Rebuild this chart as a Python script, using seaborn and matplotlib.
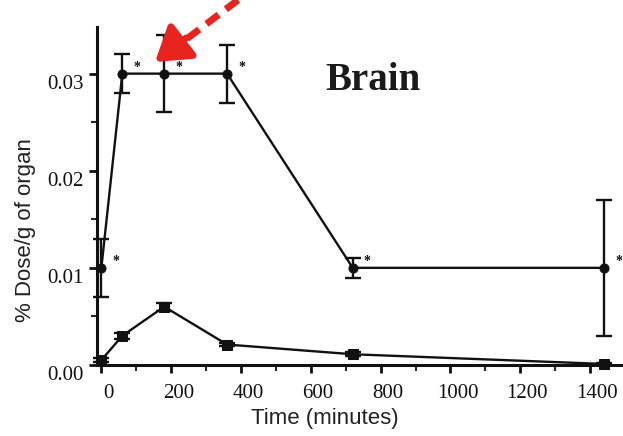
import numpy as np
import pandas as pd
import matplotlib.pyplot as plt
import matplotlib.transforms as mtransforms
import seaborn as sns
from matplotlib.ticker import MultipleLocator

# Brain uptake over time (% dose / g of organ)
time_min = [0, 60, 180, 360, 720, 1440]
upper_dose = [0.010, 0.030, 0.030, 0.030, 0.010, 0.010]
upper_err = [0.003, 0.002, 0.004, 0.003, 0.001, 0.007]
lower_dose = [0.0005, 0.0030, 0.0060, 0.0021, 0.0011, 0.0001]
lower_err = [0.0002, 0.0003, 0.0004, 0.0002, 0.0002, 0.0001]

df = pd.DataFrame({'time': time_min * 2,
                   'dose': upper_dose + lower_dose,
                   'group': ['upper'] * 6 + ['lower'] * 6})

sns.set_style('ticks')
plt.rcParams['font.family'] = ['Liberation Serif', 'DejaVu Serif']

fig = plt.figure(figsize=(6.23, 4.36), dpi=100)
ax = fig.add_axes([0.156, 0.163, 0.85, 0.775])

sns.lineplot(data=df, x='time', y='dose', style='group', markers={'upper': 'o', 'lower': 's'},
             dashes=False, color='#111111', linewidth=1.7, markersize=6.5,
             markeredgecolor='#111111', legend=False, ax=ax, clip_on=False)
ax.errorbar(time_min, upper_dose, yerr=upper_err, fmt='none', ecolor='#111111',
            elinewidth=1.7, capsize=6, capthick=1.7, clip_on=False)
ax.errorbar(time_min, lower_dose, yerr=lower_err, fmt='none', ecolor='#111111',
            elinewidth=1.7, capsize=6, capthick=1.7, clip_on=False)

for x, y in zip(time_min, upper_dose):
    ax.annotate('*', (x, y), xytext=(8, 2), textcoords='offset points',
                fontsize=10, fontweight='bold', color='#111111')

ax.set_xlim(-12, 1505)
ax.set_ylim(0, 0.0348)
ax.xaxis.set_major_locator(MultipleLocator(200))
ax.xaxis.set_minor_locator(MultipleLocator(100))
ax.yaxis.set_major_locator(MultipleLocator(0.01))
ax.yaxis.set_minor_locator(MultipleLocator(0.005))
ax.yaxis.set_major_formatter(plt.FuncFormatter(lambda v, p: f'{v:.2f}'))
ax.tick_params(which='major', length=6, width=2, labelsize=15, direction='out', colors='#111111')
ax.tick_params(axis='x', which='major', pad=8)
ax.tick_params(which='minor', length=4, width=1.5, direction='out')
for s in ['left', 'bottom']:
    ax.spines[s].set_linewidth(2.2)
    ax.spines[s].set_color('#111111')
sns.despine(ax=ax)

# tick labels sit a little off their ticks in the original
shift_y = mtransforms.ScaledTranslation(0, -8 / 100, fig.dpi_scale_trans)
shift_x = mtransforms.ScaledTranslation(7 / 100, 0, fig.dpi_scale_trans)
for lab in ax.get_yticklabels():
    lab.set_transform(lab.get_transform() + shift_y)
for lab in ax.get_xticklabels():
    lab.set_transform(lab.get_transform() + shift_x)

ax.set_xlabel('Time (minutes)', family='Liberation Sans', fontsize=16, color='#222222')
ax.xaxis.set_label_coords(0.43, -0.127)
ax.set_ylabel('% Dose/g of organ', family='Liberation Sans', fontsize=16, color='#222222')
ax.yaxis.set_label_coords(-0.115, 0.40)

ax.text(0.522, 0.815, 'Brain', transform=fig.transFigure, fontsize=28, fontweight='bold',
        va='center', ha='left', color='#1a1a1a')

# red dashed arrow pointing at the 180 min point
red = '#e8241f'
fig.add_artist(plt.Line2D([238 / 623, 180 / 623], [1.0, 1 - 44 / 436], transform=fig.transFigure,
                          color=red, lw=5, linestyle=(0, (2.2, 1.3))))
ax.annotate('', xy=(155 / 623, 1 - 62 / 436), xycoords='figure fraction',
            xytext=(186 / 623, 1 - 38 / 436), textcoords='figure fraction',
            arrowprops=dict(arrowstyle='-|>,head_length=1.0,head_width=0.65', color=red, lw=5,
                            shrinkA=0, shrinkB=0, mutation_scale=20))

fig.savefig('out.png', dpi=100)
